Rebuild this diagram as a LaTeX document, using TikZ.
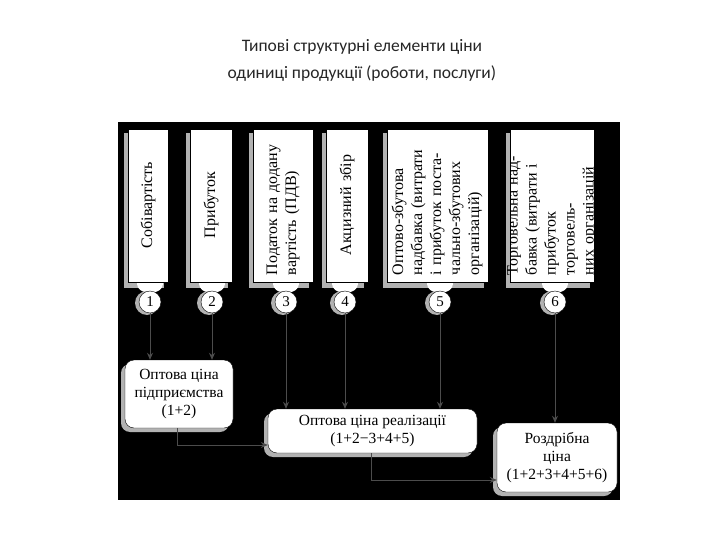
\documentclass[tikz,border=0pt]{standalone}
\usepackage{fontspec}
\setmainfont{Liberation Serif}
\newfontfamily\titlefont{Carlito}
\usetikzlibrary{arrows.meta}
\begin{document}
\begin{tikzpicture}[x=1pt,y=-1pt,
  colbox/.style={fill=white,draw=black,line width=0.6pt},
  shad/.style={fill=gray!60},
  num/.style={circle,fill=white,draw=black,minimum size=22pt,inner sep=0pt,font=\fontsize{15}{15}\selectfont},
  vtxt/.style={rotate=90,font=\fontsize{16}{19}\selectfont,text width=140pt,inner sep=0pt},
  low/.style={rounded corners=9pt,fill=white,draw=black,align=center,font=\fontsize{15.5}{18}\selectfont},
  arr/.style={draw=gray!60!black,line width=1pt,-{Stealth[length=7pt,width=6pt]}}]
\useasboundingbox (0,0) rectangle (720,540);
\node[font=\titlefont\fontsize{17.5}{27}\selectfont,align=center,text=black!85] (title) at (362,60) {Типові структурні елементи ціни\\одиниці продукції (роботи, послуги)};
\fill[black] (118,122) rectangle (620,500);
% columns
\foreach \i/\xa/\xb/\cx in {1/128/168/150,2/190/232/212,3/253/313/286,4/326/368/345,5/387/488/440,6/510/594/555}{
  \fill[shad] (\xa-4,\xb*0+133) rectangle (\xb-4,288);
  \fill[white] (\cx,284) ellipse (13pt and 9pt);
  \fill[colbox] (\xa,129) rectangle (\xb,282);
  \fill[shad] (\cx-3,303) circle (12pt);
  \node[num] (n\i) at (\cx,302) {\i};
}
\node[vtxt,align=center] (t1) at (148,205) {Собівартість};
\node[vtxt,align=center] (t2) at (211,205) {Прибуток};
\node[vtxt,align=left] (t3) at (283,205) {Податок на додану\\вартість (ПДВ)};
\node[vtxt,align=center] (t4) at (347,205) {Акцизний збір};
\node[vtxt,align=left] (t5) at (437,205) {Оптово-збутова\\надбавка (витрати\\і прибуток постa-\\чально-збутових\\організацій)};
\node[vtxt,align=left] (t6) at (552,205) {Торговельна над-\\бавка (витрати і\\прибуток торговель-\\них організацій};
% lower boxes
\fill[shad,rounded corners=9pt] (121,364) rectangle (229,432);
\node[low,minimum width=108pt,minimum height=68pt] (A) at (179,394) {Оптова ціна\\підприємства\\(1+2)};
\fill[shad,rounded corners=9pt] (264,413) rectangle (473,457);
\node[low,minimum width=209pt,minimum height=44pt] (B) at (372.5,431) {Оптова ціна реалізації\\(1+2−3+4+5)};
\fill[shad,rounded corners=9pt] (493,427) rectangle (613,496);
\node[low,minimum width=120pt,minimum height=69pt] (C) at (557,457.5) {Роздрібна\\ціна\\(1+2+3+4+5+6)};
% arrows
\draw[arr] (n1) -- (n1|-A.north);
\draw[arr] (n2) -- (n2|-A.north);
\draw[arr] (n3) -- (n3|-B.north);
\draw[arr] (n4) -- (n4|-B.north);
\draw[arr] (n5) -- (n5|-B.north);
\draw[arr] (n6) -- (n6|-C.north);
\coordinate (a1) at (177,445);
\coordinate (b1) at (371,480);
\draw[arr] (a1|-A.south) -- (a1) -- (a1-|B.west);
\draw[arr] (b1|-B.south) -- (b1) -- (b1-|C.west);
\end{tikzpicture}
\end{document}
